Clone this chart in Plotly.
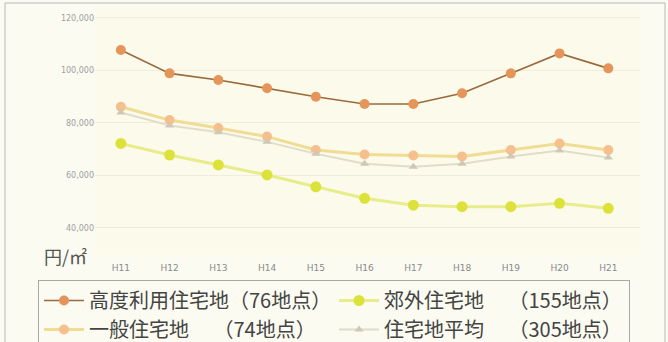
import plotly.graph_objects as go

years = ["H11", "H12", "H13", "H14", "H15", "H16", "H17", "H18", "H19", "H20", "H21"]

high_use = [107800, 98900, 96400, 93200, 90000, 87200, 87200, 91300, 98900, 106500, 100800]
general = [86200, 81100, 78100, 74800, 69700, 68000, 67600, 67200, 69700, 72200, 69700]
suburban = [72200, 67800, 64000, 60200, 55700, 51300, 48700, 48100, 48100, 49400, 47500]
average = [84000, 79000, 76500, 72800, 68300, 64500, 63300, 64500, 67200, 69500, 66800]

y_ticks = [40000, 60000, 80000, 100000, 120000]
y_tick_text = ["40,000", "60,000", "80,000", "100,000", "120,000"]

JP = "Noto Sans CJK JP"

fig = go.Figure()

# Legend order fills rows left-to-right: row 1 = high-use / suburban, row 2 = general / average
fig.add_trace(go.Scatter(
    x=years, y=high_use, mode="lines+markers",
    name="高度利用住宅地（76地点）",
    line=dict(color="#9a6a3c", width=1.6),
    marker=dict(color="#e6955a", size=10, symbol="circle"),
))
fig.add_trace(go.Scatter(
    x=years, y=suburban, mode="lines+markers",
    name="郊外住宅地　 （155地点）",
    line=dict(color="#e8ec8a", width=3),
    marker=dict(color="#dde23a", size=11, symbol="circle"),
))
fig.add_trace(go.Scatter(
    x=years, y=general, mode="lines+markers",
    name="一般住宅地　 （74地点）",
    line=dict(color="#f0dc92", width=3),
    marker=dict(color="#f6bf8e", size=10, symbol="circle"),
))
fig.add_trace(go.Scatter(
    x=years, y=average, mode="lines+markers",
    name="住宅地平均　 （305地点）",
    line=dict(color="#e2dccb", width=2),
    marker=dict(color="#cfc8b6", size=8, symbol="triangle-up"),
))

L, R, T, B = 95, 28, 8, 87
W, H = 668, 342
pw, ph = W - L - R, H - T - B


def px_x(px):
    return (px - L) / pw


def px_y(py):
    return (H - B - py) / ph


fig.update_layout(
    width=W, height=H,
    margin=dict(l=L, r=R, t=T, b=B, autoexpand=False),
    paper_bgcolor="#fbfbf1",
    plot_bgcolor="#fcfbeb",
    font=dict(family=JP, color="#555555"),
    showlegend=True,
    legend=dict(
        orientation="h",
        x=px_x(38), y=px_y(280), xanchor="left", yanchor="top",
        entrywidth=240, entrywidthmode="pixels",
        itemwidth=40,
        font=dict(family=JP, size=20, color="#444444"),
        bgcolor="rgba(255,255,255,0)",
        bordercolor="#a8a8a8", borderwidth=1,
        tracegroupgap=0,
    ),
    xaxis=dict(
        type="category",
        range=[-0.53, 10.65],
        showgrid=False, zeroline=False, showline=False,
        ticks="", tickfont=dict(family="DejaVu Sans", size=9, color="#8a8a8a"),
        ticklabelstandoff=6,
    ),
    yaxis=dict(
        range=[29700, 123800],
        tickvals=y_ticks, ticktext=y_tick_text,
        showgrid=True, gridcolor="#efeddc", gridwidth=1,
        zeroline=False, showline=False, ticks="",
        tickfont=dict(family="DejaVu Sans", size=8, color="#a0a0a0"),
    ),
    annotations=[
        dict(text="円/㎡", xref="paper", yref="paper",
             x=px_x(42), y=px_y(256), xanchor="left", yanchor="middle",
             showarrow=False, font=dict(family=JP, size=18, color="#555555")),
    ],
    shapes=[
        dict(type="rect", xref="paper", yref="paper",
             x0=px_x(5), x1=px_x(665), y0=px_y(345), y1=px_y(3),
             line=dict(color="#b8b8b8", width=1)),
    ],
)

fig.write_html("out.html")
